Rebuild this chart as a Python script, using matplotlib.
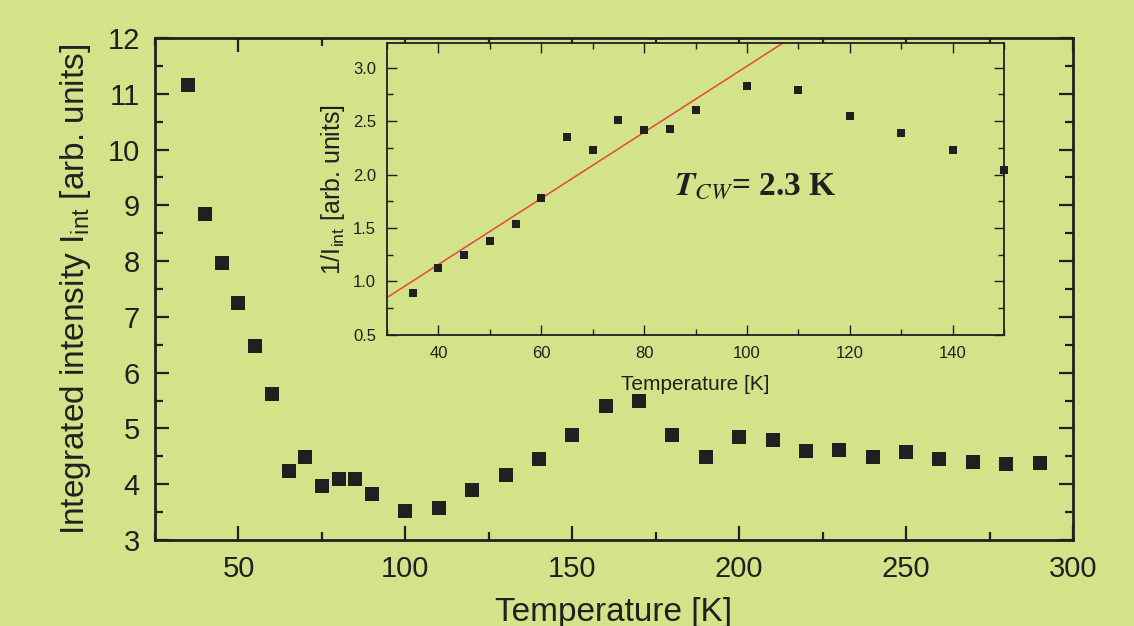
import numpy as np
import matplotlib
matplotlib.use("Agg")
import matplotlib.pyplot as plt
from matplotlib.ticker import MultipleLocator

# main panel: integrated intensity vs temperature
temp = [35, 40, 45, 50, 55, 60, 65, 70, 75, 80, 85, 90, 100, 110, 120, 130,
        140, 150, 160, 170, 180, 190, 200, 210, 220, 230, 240, 250, 260, 270,
        280, 290]
intensity = [11.16, 8.84, 7.97, 7.24, 6.48, 5.61, 4.24, 4.48, 3.96, 4.10, 4.10,
             3.82, 3.52, 3.57, 3.90, 4.16, 4.46, 4.88, 5.40, 5.50, 4.88, 4.48,
             4.85, 4.80, 4.60, 4.61, 4.48, 4.57, 4.46, 4.40, 4.37, 4.38]

# inset: inverse intensity
temp_in = [35, 40, 45, 50, 55, 60, 65, 70, 75, 80, 85, 90, 100, 110, 120, 130,
           140, 150]
inv_int = [0.89, 1.13, 1.25, 1.38, 1.54, 1.78, 2.35, 2.23, 2.51, 2.42, 2.43,
           2.60, 2.83, 2.79, 2.55, 2.39, 2.23, 2.04]

# Curie-Weiss fit line endpoints
fit_T = [30, 107]
fit_inv = [0.85, 3.23]

bg = '#d2e38a'
ink = '#231f20'

plt.rcParams['font.family'] = ['Liberation Sans', 'DejaVu Sans']
plt.rcParams['mathtext.fontset'] = 'custom'
plt.rcParams['mathtext.rm'] = 'Liberation Sans'

fig = plt.figure(figsize=(11.34, 6.26), dpi=100, facecolor=bg)

ax = fig.add_axes([0.1367, 0.1374, 0.8095, 0.8019], facecolor=bg)
ax.plot(temp, intensity, 's', color=ink, markersize=9.5, markeredgewidth=0)
ax.set_xlim(25, 300)
ax.set_ylim(3, 12)
ax.xaxis.set_major_locator(MultipleLocator(50))
ax.xaxis.set_minor_locator(MultipleLocator(25))
ax.yaxis.set_major_locator(MultipleLocator(1))
ax.yaxis.set_minor_locator(MultipleLocator(0.5))
ax.tick_params(which='both', direction='in', top=True, right=True,
               colors=ink, width=1.6, labelsize=21, pad=11)
ax.tick_params(which='major', length=10)
ax.tick_params(which='minor', length=6)
for s in ax.spines.values():
    s.set_linewidth(2)
    s.set_color(ink)
ax.set_xlabel('Temperature [K]', fontsize=24, color=ink, labelpad=10)
ax.set_ylabel(r'Integrated intensity I$_{\rm int}$ [arb. units]', fontsize=24,
              color=ink, labelpad=10)

ins = fig.add_axes([0.3413, 0.4649, 0.5441, 0.4664], facecolor=bg)
ins.plot(fit_T, fit_inv, '-', color='#e8453c', linewidth=1.1)
ins.plot(temp_in, inv_int, 's', color=ink, markersize=5.5, markeredgewidth=0,
         clip_on=False)
ins.set_xlim(30, 150)
ins.set_ylim(0.5, 3.23)
ins.xaxis.set_major_locator(MultipleLocator(20))
ins.xaxis.set_minor_locator(MultipleLocator(10))
ins.yaxis.set_major_locator(MultipleLocator(0.5))
ins.yaxis.set_minor_locator(MultipleLocator(0.25))
ins.tick_params(which='both', direction='in', top=True, right=True,
                colors=ink, width=1.0, labelsize=12, pad=8)
ins.tick_params(which='major', length=7)
ins.tick_params(which='minor', length=4)
for s in ins.spines.values():
    s.set_linewidth(1.3)
    s.set_color(ink)
ins.set_xlabel('Temperature [K]', fontsize=15, color=ink, labelpad=10)
ins.set_ylabel(r'1/I$_{\rm int}$ [arb. units]', fontsize=18, color=ink,
               labelpad=4)

ins.text(0.465, 0.48, r'$\mathbfit{T}_{\mathit{CW}}$= 2.3 K', transform=ins.transAxes,
         fontsize=24, fontweight='bold', color=ink, family='Liberation Serif',
         math_fontfamily='stix')

fig.savefig('out.png', dpi=100, facecolor=bg)
